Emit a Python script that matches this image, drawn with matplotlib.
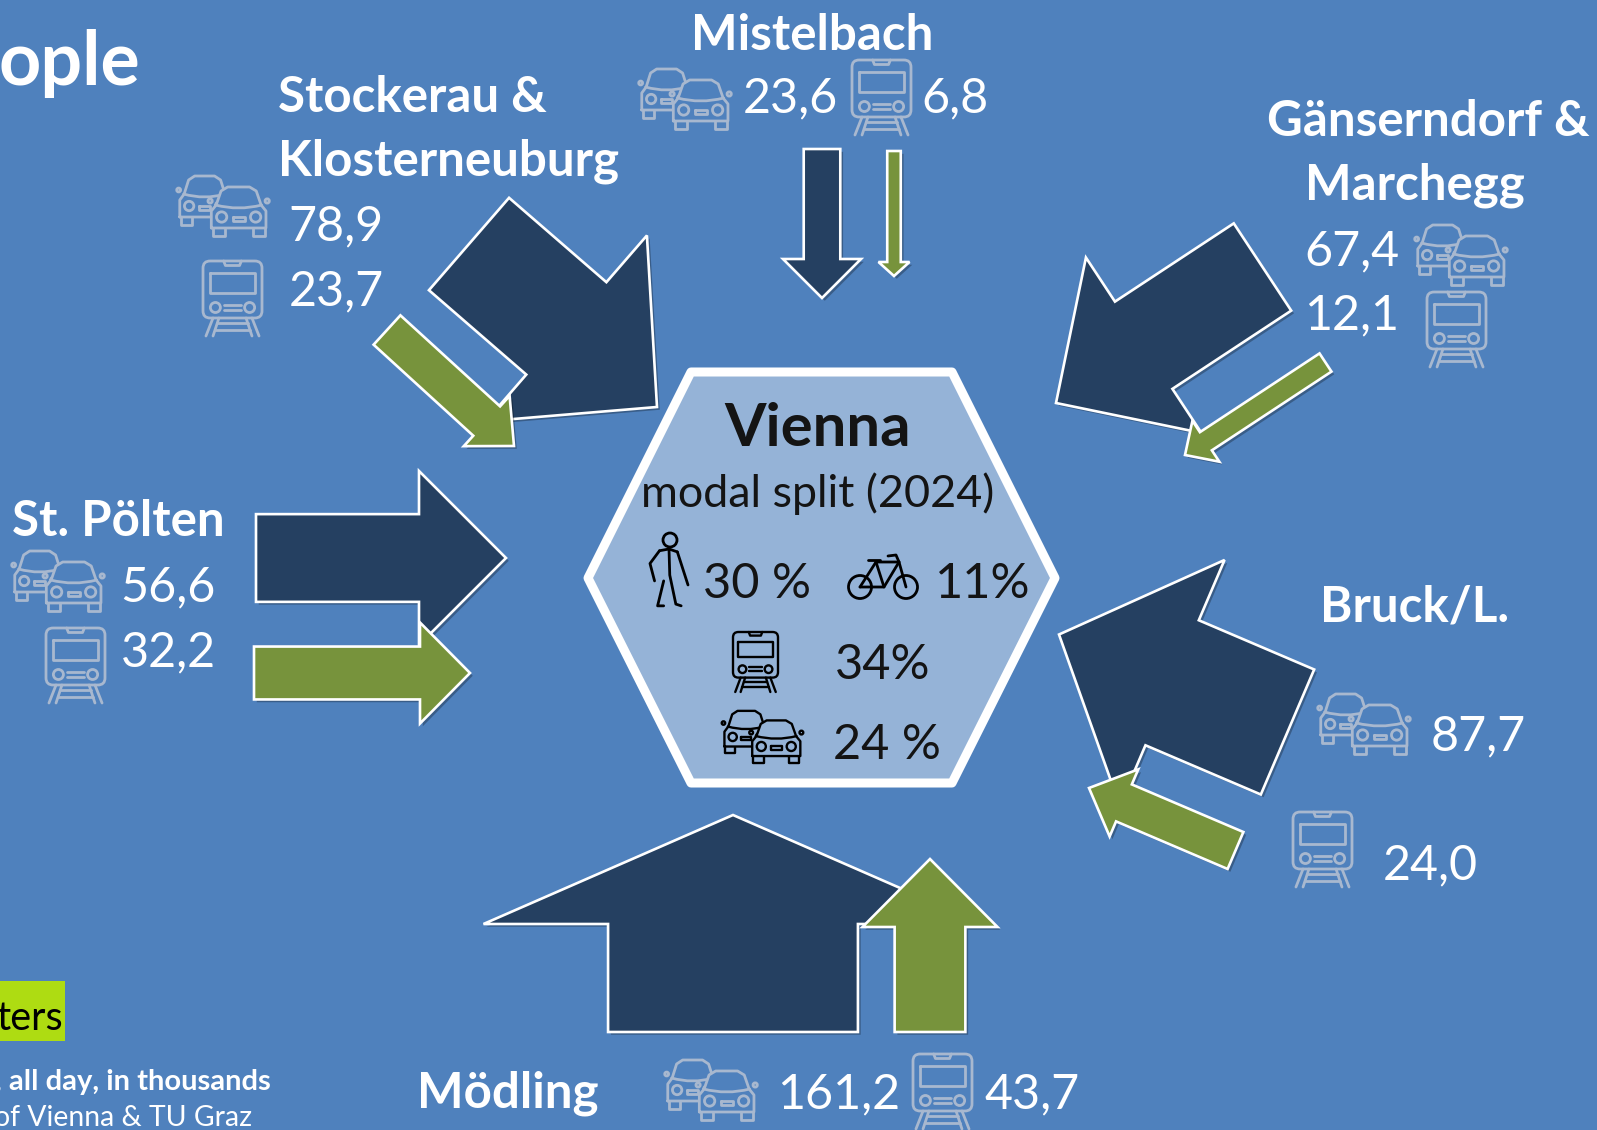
import numpy as np
import matplotlib
matplotlib.use("Agg")
import matplotlib.pyplot as plt
from matplotlib.patches import Polygon, Circle, PathPatch, Rectangle, FancyBboxPatch
from matplotlib.path import Path
import matplotlib.patheffects as pe

plt.rcParams['font.family'] = ['Lato', 'DejaVu Sans']

# ---- data -------------------------------------------------------------
regions = ["Mistelbach", "Stockerau &\nKlosterneuburg", "Gänserndorf &\nMarchegg",
           "St. Pölten", "Bruck/L.", "Mödling"]
car_commuters = [23.6, 78.9, 67.4, 56.6, 87.7, 161.2]
rail_commuters = [6.8, 23.7, 12.1, 32.2, 24.0, 43.7]
modal_labels = ["30 %", "11%", "34%", "24 %"]

BG, DARK, GREEN, HEX, LIME = '#4F81BD', '#254061', '#77933C', '#95B3D7', '#AEDC12'
ICON = '#A8B8CF'
PX_PER_K = 1.55

fig = plt.figure(figsize=(15.97, 11.30), dpi=100, facecolor=BG)
ax = fig.add_axes([0, 0, 1, 1])
ax.set_xlim(0, 1597); ax.set_ylim(1130, 0); ax.axis('off')

shadow = [pe.SimplePatchShadow(offset=(2, -2), alpha=0.28, shadow_rgbFace='k'), pe.Normal()]


def arrow(tail, tip, value, head_w, head_l, color, z, pad=0):
    tail, tip = np.array(tail, float), np.array(tip, float)
    d = (tip - tail) / np.linalg.norm(tip - tail)
    n = np.array([-d[1], d[0]])
    w = (value * PX_PER_K + pad) / 2
    b = tip - d * head_l
    pts = [tail + n * w, b + n * w, b + n * head_w / 2, tip,
           b - n * head_w / 2, b - n * w, tail - n * w]
    ax.add_patch(Polygon(pts, closed=True, fc=color, ec='white', lw=1.9, joinstyle='miter',
                         zorder=z, path_effects=shadow))


# layout: tail centre, tip, head width, head length
car_arrows = [((822, 149), (822, 298), 78, 39),
              ((469, 244), (657, 407), 246, 120),
              ((1262.5, 267), (1056, 403), 210, 105),
              ((256, 558), (506, 558), 174, 87),
              ((1287.5, 732), (1059, 634.5), 267, 123),
              ((733, 1032), (733, 815), 499, 109)]
rail_arrows = [((894, 151), (894, 276), 31, 14),
               ((387, 330), (514, 446), 68, 37),
               ((1325.5, 362.5), (1185, 455), 49, 25),
               ((254, 673), (470, 673), 101, 50),
               ((1235.5, 850.5), (1089, 788), 73, 38),
               ((930, 1032), (930, 859), 135, 68)]
for v, (t, p, hw, hl) in zip(car_commuters, car_arrows):
    arrow(t, p, v, hw, hl, DARK, 3)
for v, (t, p, hw, hl) in zip(rail_commuters, rail_arrows):
    arrow(t, p, v, hw, hl, GREEN, 4, pad=3)

# hexagon
ax.add_patch(Polygon([(691, 372), (952, 372), (1055, 578), (952, 783), (691, 783), (588, 578)],
                     closed=True, fc=HEX, ec='white', lw=6.5, joinstyle='round', zorder=5,
                     path_effects=shadow))


def stroke(x, y, w, h, pts, color, lw, z, fill='none', closed=False, curved=False):
    P = np.array([(x + u * w, y + v * h) for u, v in pts])
    if curved:
        codes = [Path.MOVETO] + [Path.CURVE3] * (len(P) - 1)
        path = Path(P, codes)
    else:
        path = Path(np.vstack([P, P[0]]) if closed else P)
    ax.add_patch(PathPatch(path, fc=fill, ec=color, lw=lw, zorder=z, capstyle='round', joinstyle='round'))


def one_car(x, y, w, h, color, lw, z, fill):
    S = lambda pts, **k: stroke(x, y, w, h, pts, color, lw, z, **k)
    # wheels
    S([(.07, .84), (.07, 1), (.27, 1), (.27, .84)], fill=fill)
    S([(.73, .84), (.73, 1), (.93, 1), (.93, .84)], fill=fill)
    # silhouette
    S([(.05, .84), (.05, .50), (.13, .38), (.21, .10), (.32, .02), (.68, .02), (.79, .10),
       (.87, .38), (.95, .50), (.95, .84)], closed=True, fill=fill)
    S([(.12, .38), (.5, .50), (.88, .38)], curved=True)
    ax.add_patch(Circle((x + .22 * w, y + .62 * h), .085 * w, fc='none', ec=color, lw=lw, zorder=z))
    ax.add_patch(Circle((x + .78 * w, y + .62 * h), .085 * w, fc='none', ec=color, lw=lw, zorder=z))
    S([(.40, .62), (.60, .62), (.60, .70), (.40, .70)], closed=True)
    ax.add_patch(Circle((x + .03 * w, y + .30 * h), .035 * w, fc=fill, ec=color, lw=lw, zorder=z))
    ax.add_patch(Circle((x + .97 * w, y + .30 * h), .035 * w, fc=fill, ec=color, lw=lw, zorder=z))


def cars(x, y, w=92, h=61, color=ICON, lw=2.0, z=6, fill=BG):
    one_car(x, y, .60 * w, .82 * h, color, lw, z, fill)
    one_car(x + .34 * w, y + .18 * h, .66 * w, .82 * h, color, lw, z + .1, fill)


def train(x, y, w=59, h=75, color=ICON, lw=2.0, z=6):
    S = lambda pts, **k: stroke(x, y, w, h, pts, color, lw, z, **k)
    ax.add_patch(FancyBboxPatch((x, y), w, .76 * h, boxstyle=f"round,pad=0,rounding_size={.12 * w}",
                                fc='none', ec=color, lw=lw, zorder=z))
    S([(.35, 0), (.38, .06), (.62, .06), (.65, 0)])
    S([(.12, .16), (.88, .16), (.88, .42), (.12, .42)], closed=True)
    for u in (.21, .79):
        ax.add_patch(Circle((x + u * w, y + .62 * h), .085 * w, fc='none', ec=color, lw=lw, zorder=z))
    S([(.36, .59), (.64, .59)]); S([(.36, .65), (.64, .65)])
    S([(.17, .76), (.05, 1)]); S([(.83, .76), (.95, 1)])
    S([(.27, .76), (.17, 1)]); S([(.73, .76), (.83, 1)])
    S([(.24, .83), (.76, .83)]); S([(.2, .92), (.8, .92)])


for px, py in [(639, 68), (177, 175), (1415, 224), (12, 550), (1318, 693), (665, 1059)]:
    cars(px, py)
for px, py in [(852, 60), (203, 261), (1427, 292), (46, 628), (1293, 812), (913, 1054)]:
    train(px, py)

cars(722, 710, 81, 53, 'black', 1.7, 6, HEX)
train(733, 632, 45, 60, 'black', 1.7, 6)

# pedestrian and bicycle (centre-hexagon icons)
LW = 2.0
ax.add_patch(Circle((670, 540), 7, fc='none', ec='black', lw=LW, zorder=6))
stroke(650, 549, 38, 58, [(.25, .03), (.5, .0), (.72, .05)], 'black', LW, 6)
stroke(650, 549, 38, 58, [(.25, .03), (.0, .25), (.12, .55)], 'black', LW, 6)
stroke(650, 549, 38, 58, [(.72, .05), (1.0, .62)], 'black', LW, 6)
stroke(650, 549, 38, 58, [(.5, .0), (.52, .45), (.68, .95), (.82, .98)], 'black', LW, 6)
stroke(650, 549, 38, 58, [(.36, .55), (.2, .98), (.36, .98)], 'black', LW, 6)
for cx in (860, 906):
    ax.add_patch(Circle((cx, 587), 11.5, fc='none', ec='black', lw=LW, zorder=6))
for seg in ([(860, 587), (876, 562), (899, 562), (906, 587)],
            [(860, 587), (884, 587), (899, 562)],
            [(876, 562), (884, 587)],
            [(868, 560), (880, 560)],
            [(888, 556), (896, 555), (899, 562)]):
    stroke(0, 0, 1, 1, seg, 'black', LW, 6)

# text


def T(x, y, s, size, color='white', ha='center', weight='normal', z=8, **k):
    return ax.text(x, y, s, fontsize=size, color=color, ha=ha, va='center', weight=weight, zorder=z, **k)


BOLD, VAL = 35.5, 34.8
fmt = lambda v: f"{v:.1f}".replace('.', ',')
# region names
T(812, 35, regions[0], BOLD, weight='bold')
for i, line in enumerate(regions[1].split('\n')):
    T(278, (97, 161)[i], line, BOLD, ha='left', weight='bold')
T(1428, 121, regions[2].split('\n')[0], BOLD, weight='bold')
T(1415, 185, regions[2].split('\n')[1], BOLD, weight='bold')
T(118, 521, regions[3], BOLD, weight='bold')
T(1415, 607, regions[4], BOLD, weight='bold')
T(508, 1093, regions[5], BOLD, weight='bold')
# values
car_pos = [(790, 98), (336, 226), (1352, 251), (168, 587), (1478, 736), (839, 1094)]
rail_pos = [(955, 98), (336, 291), (1352, 315), (168, 652), (1430, 865), (1032, 1094)]
for v, p in zip(car_commuters, car_pos):
    T(p[0], p[1], fmt(v), VAL)
for v, p in zip(rail_commuters, rail_pos):
    T(p[0], p[1], fmt(v), VAL)

# hexagon text
T(818, 429, "Vienna", 43, color='#141414', weight='bold')
T(818, 494, "modal split (2024)", 32.3, color='#141414')
for (x, y), s in zip([(757, 584), (983, 584), (883, 665), (887, 745)], modal_labels):
    T(x, y, s, 35, color='#141414')

# clipped slide remains at the left edge
T(140, 63, "ople", 53, ha='right', weight='bold')
ax.add_patch(Rectangle((0, 981), 65, 60, fc=LIME, ec='none', zorder=2))
T(63, 1018, "ters", 28.5, color='black', ha='right')
T(271, 1082, ", all day, in thousands", 21, ha='right', weight='bold')
T(252, 1118, "of Vienna & TU Graz", 20.4, ha='right')

fig.savefig('out.png', dpi=100, facecolor=BG)
